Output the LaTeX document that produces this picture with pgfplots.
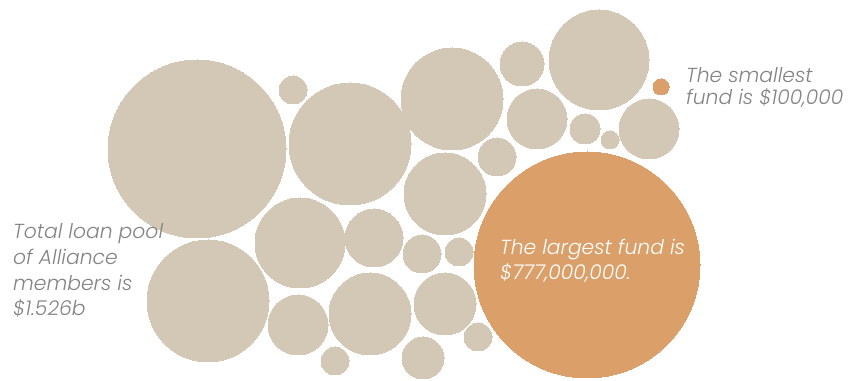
\documentclass[border=0pt]{standalone}
\usepackage{pgfplots}
\pgfplotsset{compat=1.18}
\usepackage{pgfplotstable}
\usepackage{fontspec}
\setmainfont{Poppins}[ItalicFont={Poppins Light Italic}]
\definecolor{beige}{HTML}{D3C7B5}
\definecolor{orng}{HTML}{DBA06A}
\definecolor{txtgray}{HTML}{838383}
\pgfplotstableread{
x y r
197 149 89
293 90 14
350 144 61
452 99 51
522 64 22
599 60 50
537 119 30
585 129 15
610 140 9
649 129 30
497 157 19
445 194 41
300 243 45
374 238 29
422 254 19
459 252 14
208 301 61
298 325 30
370 314 41
445 304 31
335 361 14
423 358 21
478 337 14
}\beigedata
\pgfplotstableread{
x y r
661 87 8
587 265 113
}\orangedata
\begin{document}
\begin{tikzpicture}
\begin{axis}[width=861bp,height=381bp,scale only axis,
  xmin=0,xmax=861,ymin=0,ymax=381,hide axis,clip=false]
\addplot[color=beige,scatter,only marks,mark=*,
  scatter/use mapped color={draw=beige,fill=beige},
  mark options={line width=0pt},
  visualization depends on={\thisrow{r}\as\rad},
  scatter/@pre marker code/.append style={/tikz/mark size=\rad bp}]
  table[x=x,y expr=381-\thisrow{y}]{\beigedata};
\addplot[color=orng,scatter,only marks,mark=*,
  scatter/use mapped color={draw=orng,fill=orng},
  mark options={line width=0pt},
  visualization depends on={\thisrow{r}\as\rad},
  scatter/@pre marker code/.append style={/tikz/mark size=\rad bp}]
  table[x=x,y expr=381-\thisrow{y}]{\orangedata};
\coordinate (t1) at (axis cs:13,{381-316});
\coordinate (t2) at (axis cs:686,{381-105});
\coordinate (t3) at (axis cs:500,{381-280});
\coordinate (sw) at (axis cs:0,0);
\coordinate (ne) at (axis cs:861,381);
\end{axis}
\path[use as bounding box] (sw) rectangle (ne);
\node[anchor=base west,align=left,text=txtgray,inner sep=0pt,
  font=\fontsize{20.4}{26}\selectfont\itshape] at (t1)
  {Total loan pool\\of Alliance\\members is\\\$1.526b};
\node[anchor=base west,align=left,text=txtgray,inner sep=0pt,
  font=\fontsize{20.4}{23}\selectfont\itshape] at (t2)
  {The smallest\\fund is \$100,000};
\node[anchor=base west,align=left,text=white,inner sep=0pt,
  font=\fontsize{20.4}{26}\selectfont\itshape] at (t3)
  {The largest fund is\\\$777,000,000.};
\end{tikzpicture}
\end{document}
